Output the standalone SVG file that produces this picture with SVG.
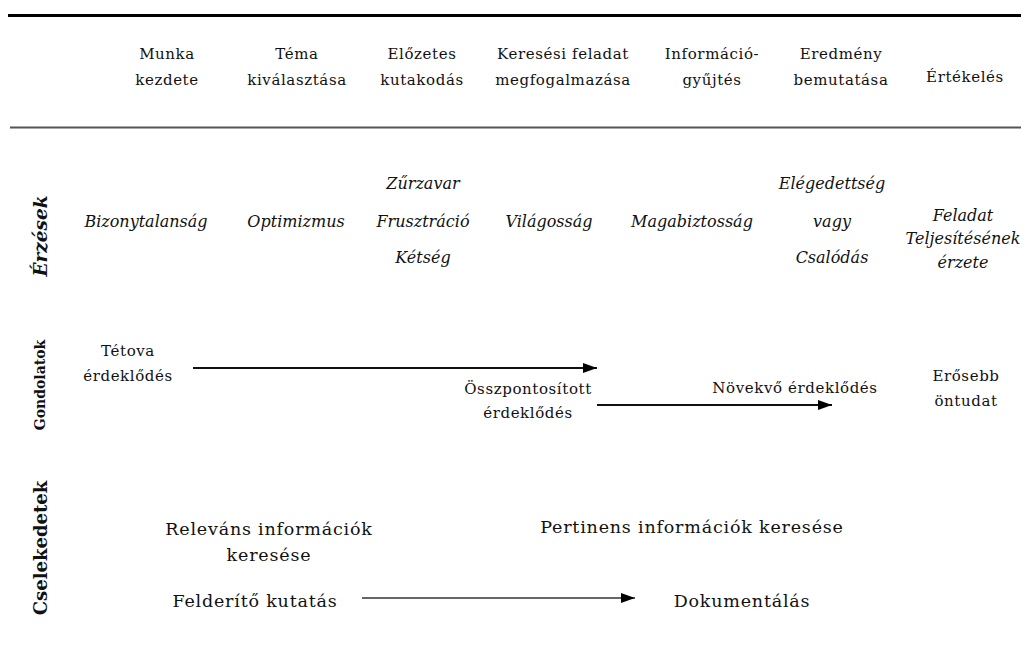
<svg xmlns="http://www.w3.org/2000/svg" width="1033" height="664" viewBox="0 0 1033 664">
<defs>
<style>
.h{font-family:"DejaVu Serif","Liberation Serif",serif;font-size:15px;letter-spacing:0.6px;fill:#111;text-anchor:middle}
.i{font-family:"DejaVu Serif","Liberation Serif",serif;font-size:16px;font-style:italic;fill:#111;text-anchor:middle}
.t{font-family:"DejaVu Serif","Liberation Serif",serif;font-size:17.5px;letter-spacing:0.8px;fill:#111;text-anchor:middle}
.v{font-family:"DejaVu Serif","Liberation Serif",serif;font-weight:bold;fill:#111;text-anchor:middle}
.ln{fill:none;stroke-width:2}
</style>
<marker id="ah" viewBox="0 0 14 10" refX="14" refY="5" markerWidth="14" markerHeight="10" markerUnits="userSpaceOnUse" orient="auto">
<path d="M0,0 L14,5 L0,10 z" fill="#000"/>
</marker>
</defs>
<rect width="1033" height="664" fill="#fff"/>
<g id="rules">
<line x1="8" y1="15.5" x2="1021" y2="15.5" stroke="#000" stroke-width="3"/>
<line x1="10" y1="127.5" x2="1021" y2="127.5" stroke="#555" stroke-width="2"/>
</g>
<g id="header">
<text class="h" x="167" y="59">Munka</text><text class="h" x="167" y="85">kezdete</text>
<text class="h" x="297" y="59">Téma</text><text class="h" x="297" y="85">kiválasztása</text>
<text class="h" x="422" y="59">Előzetes</text><text class="h" x="422" y="85">kutakodás</text>
<text class="h" x="563" y="59">Keresési feladat</text><text class="h" x="563" y="85">megfogalmazása</text>
<text class="h" x="712" y="59">Információ-</text><text class="h" x="712" y="85">gyűjtés</text>
<text class="h" x="841" y="59">Eredmény</text><text class="h" x="841" y="85">bemutatása</text>
<text class="h" x="965" y="82">Értékelés</text>
</g>
<g id="erzesek">
<text class="v" style="font-style:italic;font-size:18.5px" transform="translate(47,236) rotate(-90)">Érzések</text>
<text class="i" x="146" y="227">Bizonytalanság</text>
<text class="i" x="296" y="227">Optimizmus</text>
<text class="i" x="423" y="189">Zűrzavar</text>
<text class="i" x="423" y="227">Frusztráció</text>
<text class="i" x="423" y="263">Kétség</text>
<text class="i" x="549" y="227">Világosság</text>
<text class="i" x="692" y="227">Magabiztosság</text>
<text class="i" x="832" y="189">Elégedettség</text>
<text class="i" x="832" y="227">vagy</text>
<text class="i" x="832" y="263">Csalódás</text>
<text class="i" x="963" y="221">Feladat</text>
<text class="i" x="963" y="244">Teljesítésének</text>
<text class="i" x="963" y="268">érzete</text>
</g>
<g id="gondolatok">
<text class="v" style="font-size:14px" transform="translate(45,385) rotate(-90)">Gondolatok</text>
<text class="h" x="128" y="356">Tétova</text><text class="h" x="128" y="381">érdeklődés</text>
<text class="h" x="528" y="394">Összpontosított</text><text class="h" x="528" y="418">érdeklődés</text>
<text class="h" x="795" y="393">Növekvő érdeklődés</text>
<text class="h" x="966" y="381">Erősebb</text><text class="h" x="966" y="406">öntudat</text>
</g>
<g id="cselekedetek">
<text class="v" style="font-size:18px" transform="translate(47,548) rotate(-90)">Cselekedetek</text>
<text class="t" x="269" y="535">Releváns információk</text>
<text class="t" x="269" y="561">keresése</text>
<text class="t" x="255" y="607">Felderítő kutatás</text>
<text class="t" x="692" y="533">Pertinens információk keresése</text>
<text class="t" x="742" y="607">Dokumentálás</text>
</g>
<g id="connectors">
<line class="ln" x1="193" y1="368" x2="597" y2="368" stroke="#111" marker-end="url(#ah)"/>
<line class="ln" x1="597" y1="405" x2="832" y2="405" stroke="#111" marker-end="url(#ah)"/>
<line class="ln" x1="362" y1="598" x2="635" y2="598" stroke="#666" stroke-width="2.5" marker-end="url(#ah)"/>
</g>
</svg>
